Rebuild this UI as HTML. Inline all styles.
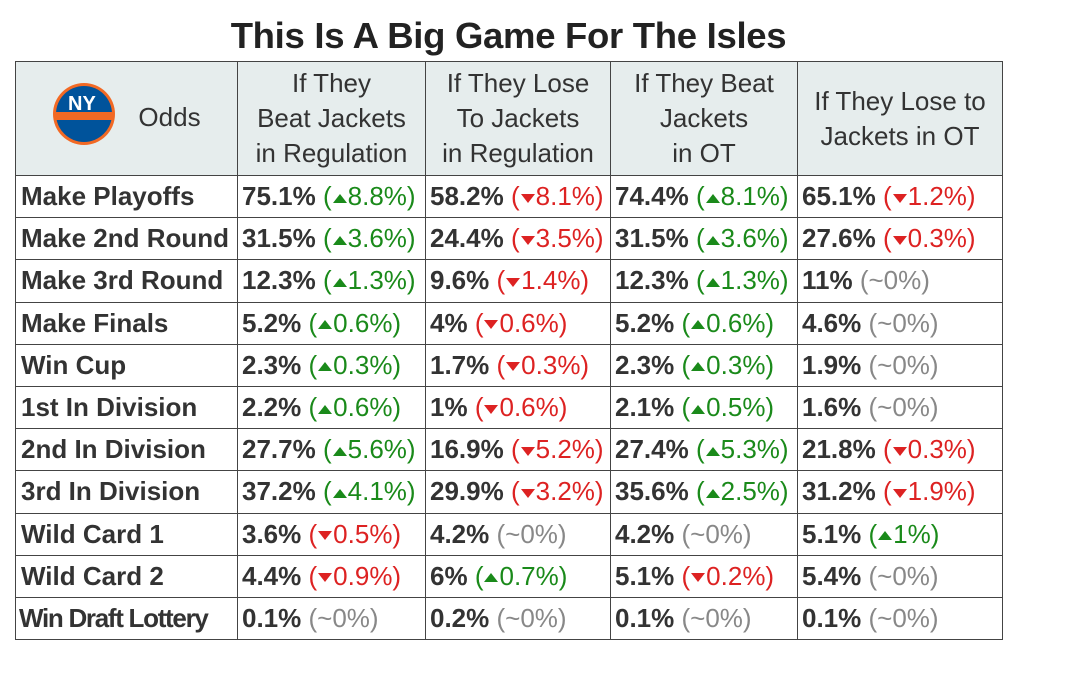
<!DOCTYPE html>
<html><head><style>
body{margin:0;width:1079px;height:675px;background:#fff;font-family:"Liberation Sans",sans-serif;color:#333;position:relative;overflow:hidden}
h1{position:absolute;top:15px;left:0;width:1017px;margin:0;text-align:center;font-size:36.5px;font-weight:bold;color:#222;letter-spacing:-0.3px}
table{position:absolute;left:15px;top:61px;border-collapse:collapse;table-layout:fixed;width:987px}
td,th{border:1.5px solid #444;padding:0 0 0 4px;white-space:nowrap;overflow:hidden;font-size:26px;letter-spacing:0;height:41.2px}
th{background:#e6eded;font-weight:normal;height:113px;text-align:center;line-height:35px;padding:0;font-size:26px;color:#333}
td.l{font-weight:bold;padding-left:5px}
b{font-weight:bold}
.g{color:#1a8a1a}.r{color:#d22}.n{color:#888}
.up,.dn{display:inline-block;width:0;height:0;border-left:7px solid transparent;border-right:7px solid transparent;vertical-align:middle;margin:0 1px}
.up{border-bottom:9px solid #1a8a1a}.dn{border-top:9px solid #d22}
</style></head><body>
<h1>This Is A Big Game For The Isles</h1>
<table>
<colgroup><col style="width:222px"><col style="width:188px"><col style="width:185px"><col style="width:187px"><col style="width:205px"></colgroup>
<tr><th><span style="display:inline-flex;align-items:center;gap:22px">
<svg width="64" height="64" viewBox="0 0 64 64"><circle cx="32" cy="32" r="31" fill="#f26924"/><circle cx="32" cy="32" r="28" fill="#00539b"/><rect x="3" y="30" width="58" height="8" fill="#f26924"/><text x="16" y="28" font-size="20" font-weight="bold" fill="#fff" font-family="Liberation Sans">NY</text></svg>
<span style="position:relative;top:3px">Odds</span></span></th>
<th>If They<br>Beat Jackets<br>in Regulation</th>
<th>If They Lose<br>To Jackets<br>in Regulation</th>
<th>If They Beat<br>Jackets<br>in OT</th>
<th>If They Lose to<br>Jackets in OT</th></tr>
<tr><td class="l">Make Playoffs</td><td><b>75.1%</b> <span class="g">(<i class="up"></i>8.8%)</span></td><td><b>58.2%</b> <span class="r">(<i class="dn"></i>8.1%)</span></td><td><b>74.4%</b> <span class="g">(<i class="up"></i>8.1%)</span></td><td><b>65.1%</b> <span class="r">(<i class="dn"></i>1.2%)</span></td></tr>
<tr><td class="l">Make 2nd Round</td><td><b>31.5%</b> <span class="g">(<i class="up"></i>3.6%)</span></td><td><b>24.4%</b> <span class="r">(<i class="dn"></i>3.5%)</span></td><td><b>31.5%</b> <span class="g">(<i class="up"></i>3.6%)</span></td><td><b>27.6%</b> <span class="r">(<i class="dn"></i>0.3%)</span></td></tr>
<tr><td class="l">Make 3rd Round</td><td><b>12.3%</b> <span class="g">(<i class="up"></i>1.3%)</span></td><td><b>9.6%</b> <span class="r">(<i class="dn"></i>1.4%)</span></td><td><b>12.3%</b> <span class="g">(<i class="up"></i>1.3%)</span></td><td><b>11%</b> <span class="n">(~0%)</span></td></tr>
<tr><td class="l">Make Finals</td><td><b>5.2%</b> <span class="g">(<i class="up"></i>0.6%)</span></td><td><b>4%</b> <span class="r">(<i class="dn"></i>0.6%)</span></td><td><b>5.2%</b> <span class="g">(<i class="up"></i>0.6%)</span></td><td><b>4.6%</b> <span class="n">(~0%)</span></td></tr>
<tr><td class="l">Win Cup</td><td><b>2.3%</b> <span class="g">(<i class="up"></i>0.3%)</span></td><td><b>1.7%</b> <span class="r">(<i class="dn"></i>0.3%)</span></td><td><b>2.3%</b> <span class="g">(<i class="up"></i>0.3%)</span></td><td><b>1.9%</b> <span class="n">(~0%)</span></td></tr>
<tr><td class="l">1st In Division</td><td><b>2.2%</b> <span class="g">(<i class="up"></i>0.6%)</span></td><td><b>1%</b> <span class="r">(<i class="dn"></i>0.6%)</span></td><td><b>2.1%</b> <span class="g">(<i class="up"></i>0.5%)</span></td><td><b>1.6%</b> <span class="n">(~0%)</span></td></tr>
<tr><td class="l">2nd In Division</td><td><b>27.7%</b> <span class="g">(<i class="up"></i>5.6%)</span></td><td><b>16.9%</b> <span class="r">(<i class="dn"></i>5.2%)</span></td><td><b>27.4%</b> <span class="g">(<i class="up"></i>5.3%)</span></td><td><b>21.8%</b> <span class="r">(<i class="dn"></i>0.3%)</span></td></tr>
<tr><td class="l">3rd In Division</td><td><b>37.2%</b> <span class="g">(<i class="up"></i>4.1%)</span></td><td><b>29.9%</b> <span class="r">(<i class="dn"></i>3.2%)</span></td><td><b>35.6%</b> <span class="g">(<i class="up"></i>2.5%)</span></td><td><b>31.2%</b> <span class="r">(<i class="dn"></i>1.9%)</span></td></tr>
<tr><td class="l">Wild Card 1</td><td><b>3.6%</b> <span class="r">(<i class="dn"></i>0.5%)</span></td><td><b>4.2%</b> <span class="n">(~0%)</span></td><td><b>4.2%</b> <span class="n">(~0%)</span></td><td><b>5.1%</b> <span class="g">(<i class="up"></i>1%)</span></td></tr>
<tr><td class="l">Wild Card 2</td><td><b>4.4%</b> <span class="r">(<i class="dn"></i>0.9%)</span></td><td><b>6%</b> <span class="g">(<i class="up"></i>0.7%)</span></td><td><b>5.1%</b> <span class="r">(<i class="dn"></i>0.2%)</span></td><td><b>5.4%</b> <span class="n">(~0%)</span></td></tr>
<tr><td class="l" style="letter-spacing:-1.3px;padding-left:3px">Win Draft Lottery</td><td><b>0.1%</b> <span class="n">(~0%)</span></td><td><b>0.2%</b> <span class="n">(~0%)</span></td><td><b>0.1%</b> <span class="n">(~0%)</span></td><td><b>0.1%</b> <span class="n">(~0%)</span></td></tr>
</table>
</body></html>
